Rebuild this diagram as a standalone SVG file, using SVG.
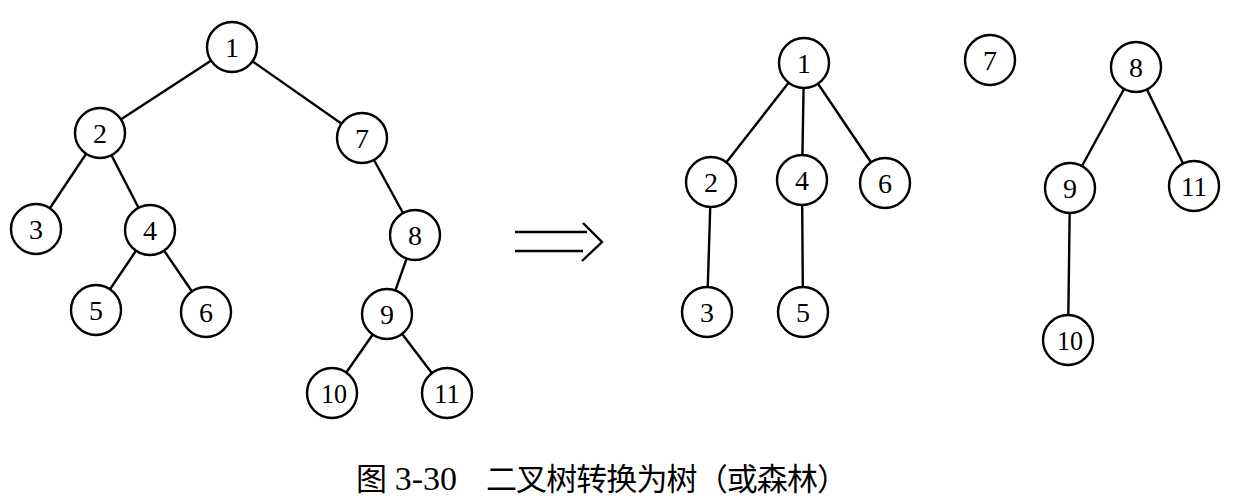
<svg xmlns="http://www.w3.org/2000/svg" width="1234" height="503" viewBox="0 0 1234 503">
<style>
.e{stroke:#000;stroke-width:2.4;fill:none}
.n circle{fill:#fff;stroke:#000;stroke-width:2.4}
.n text{font-family:"Liberation Serif",serif;font-size:28px;text-anchor:middle;fill:#000}
.cap{font-family:"Liberation Serif","Noto Sans CJK SC",serif;font-size:31px;fill:#000}
</style>
<rect width="1234" height="503" fill="#fff"/>
<g id="connectors">
<line class="e" x1="232" y1="47" x2="100" y2="133"/>
<line class="e" x1="232" y1="47" x2="362" y2="138"/>
<line class="e" x1="100" y1="133" x2="36" y2="229"/>
<line class="e" x1="100" y1="133" x2="150" y2="230"/>
<line class="e" x1="150" y1="230" x2="96" y2="310"/>
<line class="e" x1="150" y1="230" x2="206" y2="312"/>
<line class="e" x1="362" y1="138" x2="415" y2="235"/>
<line class="e" x1="415" y1="235" x2="387" y2="314"/>
<line class="e" x1="387" y1="314" x2="332" y2="393"/>
<line class="e" x1="387" y1="314" x2="447" y2="393"/>
<line class="e" x1="804" y1="63" x2="711" y2="182"/>
<line class="e" x1="804" y1="63" x2="802" y2="180"/>
<line class="e" x1="804" y1="63" x2="885" y2="183"/>
<line class="e" x1="711" y1="182" x2="707" y2="312"/>
<line class="e" x1="802" y1="180" x2="803" y2="312"/>
<line class="e" x1="1136" y1="67" x2="1070" y2="188"/>
<line class="e" x1="1136" y1="67" x2="1194" y2="186"/>
<line class="e" x1="1070" y1="188" x2="1068" y2="340"/>
</g>
<g id="arrow" class="e" stroke-width="2.5">
<line x1="515" y1="232" x2="587" y2="232"/>
<line x1="515" y1="251" x2="583" y2="251"/>
<polyline points="583,223 602,242 582,261"/>
</g>
<g id="L1" class="n"><circle cx="232" cy="47" r="25"/><text x="232" y="57">1</text></g>
<g id="L2" class="n"><circle cx="100" cy="133" r="25"/><text x="100" y="143">2</text></g>
<g id="L7" class="n"><circle cx="362" cy="138" r="25"/><text x="362" y="148">7</text></g>
<g id="L3" class="n"><circle cx="36" cy="229" r="25"/><text x="36" y="239">3</text></g>
<g id="L4" class="n"><circle cx="150" cy="230" r="25"/><text x="150" y="240">4</text></g>
<g id="L8" class="n"><circle cx="415" cy="235" r="25"/><text x="415" y="245">8</text></g>
<g id="L5" class="n"><circle cx="96" cy="310" r="25"/><text x="96" y="320">5</text></g>
<g id="L6" class="n"><circle cx="206" cy="312" r="25"/><text x="206" y="322">6</text></g>
<g id="L9" class="n"><circle cx="387" cy="314" r="25"/><text x="387" y="324">9</text></g>
<g id="L10" class="n"><circle cx="332" cy="393" r="25"/><text x="334" y="403" textLength="26" lengthAdjust="spacingAndGlyphs">10</text></g>
<g id="L11" class="n"><circle cx="447" cy="393" r="25"/><text x="447" y="403" textLength="26" lengthAdjust="spacingAndGlyphs">11</text></g>
<g id="R1" class="n"><circle cx="804" cy="63" r="25"/><text x="804" y="73">1</text></g>
<g id="R2" class="n"><circle cx="711" cy="182" r="25"/><text x="711" y="192">2</text></g>
<g id="R4" class="n"><circle cx="802" cy="180" r="25"/><text x="802" y="190">4</text></g>
<g id="R6" class="n"><circle cx="885" cy="183" r="25"/><text x="885" y="193">6</text></g>
<g id="R3" class="n"><circle cx="707" cy="312" r="25"/><text x="707" y="322">3</text></g>
<g id="R5" class="n"><circle cx="803" cy="312" r="25"/><text x="803" y="322">5</text></g>
<g id="R7" class="n"><circle cx="990" cy="60" r="25"/><text x="990" y="70">7</text></g>
<g id="R8" class="n"><circle cx="1136" cy="67" r="25"/><text x="1136" y="77">8</text></g>
<g id="R9" class="n"><circle cx="1070" cy="188" r="25"/><text x="1070" y="198">9</text></g>
<g id="R11" class="n"><circle cx="1194" cy="186" r="25"/><text x="1194" y="196" textLength="26" lengthAdjust="spacingAndGlyphs">11</text></g>
<g id="R10" class="n"><circle cx="1068" cy="340" r="25"/><text x="1070" y="350" textLength="26" lengthAdjust="spacingAndGlyphs">10</text></g>
<g id="caption">
<text class="cap" x="356" y="490">图 <tspan font-size="34">3-30</tspan></text>
<text class="cap" x="486" y="490" textLength="362" lengthAdjust="spacing">二叉树转换为树（或森林）</text>
</g>
</svg>
